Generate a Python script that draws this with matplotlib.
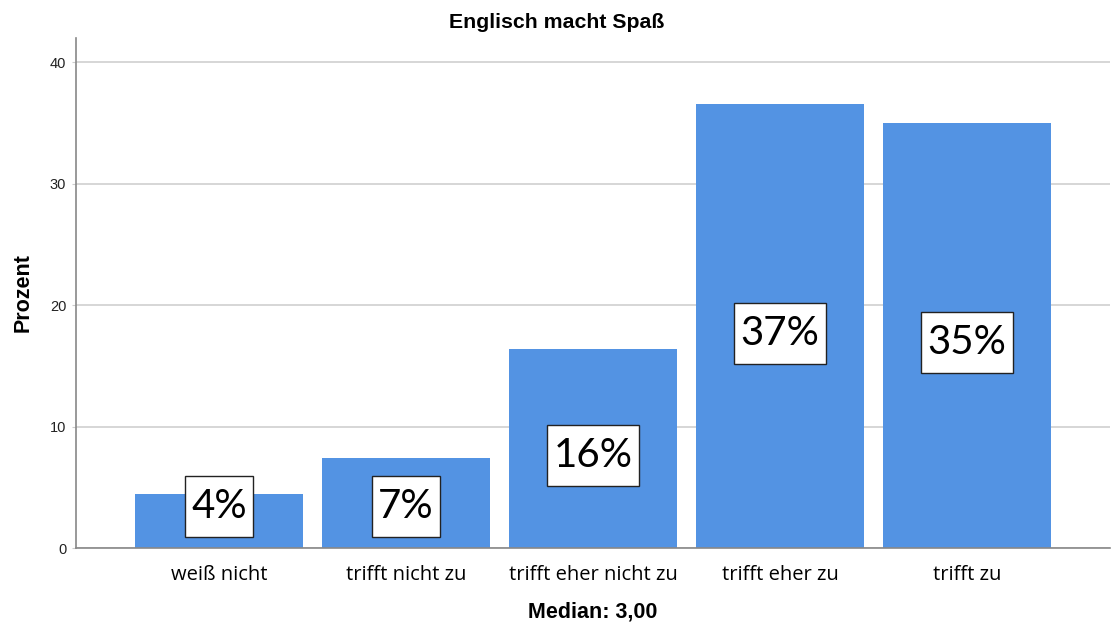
import numpy as np
import matplotlib
matplotlib.use("Agg")
import matplotlib.pyplot as plt
from matplotlib.path import Path

categories = ["weiß nicht", "trifft nicht zu", "trifft eher nicht zu", "trifft eher zu", "trifft zu"]
percent = [4.45, 7.42, 16.4, 36.6, 35.0]
labels = ["4%", "7%", "16%", "37%", "35%"]
yticks = [0, 10, 20, 30, 40]

bar_color = "#5393e3"
axis_gray = "#888888"


def label_box(x0, y0, width, height, mutation_size):
    # rectangle with more padding above/below than left/right
    px = 0.16 * mutation_size
    py = 0.30 * mutation_size
    x0, y0 = x0 - px, y0 - py
    x1, y1 = x0 + width + 2 * px, y0 + height + 2 * py
    return Path([(x0, y0), (x1, y0), (x1, y1), (x0, y1), (x0, y0)], closed=True)


fig = plt.figure(figsize=(11.14, 6.26), dpi=100)
ax = fig.add_axes([0.0682, 0.1246, 0.9282, 0.8146])

x = np.arange(len(categories))
ax.bar(x, percent, width=0.9, color=bar_color, zorder=2)

# percentage boxes roughly at mid-height of each bar
for xi, h, lab in zip(x, percent, labels):
    ypos = max(h / 2 - 0.6, 3.4)
    ax.text(xi, ypos, lab, ha="center", va="center", fontsize=29,
            family="Lato", color="black", zorder=4,
            bbox=dict(boxstyle=label_box, facecolor="white",
                      edgecolor="#222222", linewidth=1.0))

ax.set_xlim(-0.765, len(categories) - 1 + 0.765)
ax.set_ylim(0, 42)
ax.set_yticks(yticks)
ax.set_yticklabels([str(t) for t in yticks], family="Liberation Sans", fontsize=10.5,
                   color="#222222")
ax.set_xticks(x)
ax.set_xticklabels(categories, family="Open Sans", fontsize=14.5)
ax.tick_params(axis="x", length=0, pad=12)
ax.tick_params(axis="y", length=3, color="#cccccc", pad=4)

ax.grid(axis="y", color="#cfcfcf", linewidth=1.2, zorder=0)
ax.set_axisbelow(True)
for side in ["top", "right"]:
    ax.spines[side].set_visible(False)
for side in ["left", "bottom"]:
    ax.spines[side].set_color(axis_gray)
    ax.spines[side].set_linewidth(1.2)

fig.text(0.5, 1 - 22 / 626, "Englisch macht Spaß", family="Liberation Sans",
         fontweight="bold", fontsize=15.3, ha="center", va="center")
ax.set_ylabel("Prozent", family="Liberation Sans", fontweight="bold", fontsize=15.5, labelpad=12)
ax.set_xlabel("Median: 3,00", family="Liberation Sans", fontweight="bold", fontsize=15.5, labelpad=12)

fig.savefig("out.png", dpi=100)
